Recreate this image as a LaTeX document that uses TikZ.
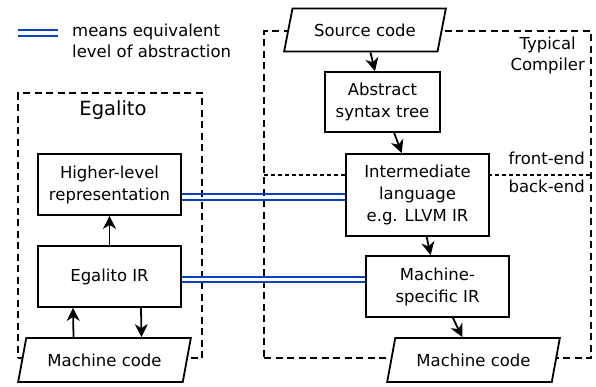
\documentclass[tikz,border=0pt]{standalone}
\usepackage{fontspec}
\setmainfont{DejaVu Sans}
\usetikzlibrary{positioning,shapes.geometric,arrows.meta}
\definecolor{equivblue}{RGB}{10,66,190}

\begin{document}
\begin{tikzpicture}[
  x=1pt, y=-1pt,
  stage/.style={draw, fill=white, line width=1.8pt, align=center,
    minimum width=143pt, minimum height=61pt, inner sep=2pt,
    font=\fontsize{16.5}{22}\selectfont},
  code/.style={draw, fill=white, line width=1.8pt, trapezium,
    trapezium left angle=70, trapezium right angle=110,
    trapezium stretches=true, minimum width=173pt, minimum height=44pt,
    inner sep=2pt, font=\fontsize{16.5}{22}\selectfont},
  region/.style={draw, line width=1.7pt, dash pattern=on 7pt off 4.5pt,
    inner sep=0pt},
  divider/.style={draw, line width=1.6pt, dash pattern=on 4pt off 3pt},
  note/.style={inner sep=0pt, font=\fontsize{16.5}{21}\selectfont},
  equiv/.style={
    postaction={draw=equivblue, line width=2pt, transform canvas={yshift=2.7pt}},
    postaction={draw=equivblue, line width=2pt, transform canvas={yshift=-2.7pt}}},
  flow/.style={-{Stealth[length=13pt,width=13pt,inset=4pt]}, line width=1.8pt}
  ]
  \useasboundingbox (0,0) rectangle (596,386);

  % dashed regions
  \node[region, minimum width=184pt, minimum height=265pt] (egalito) at (110,225.5) {};
  \node[region, minimum width=327pt, minimum height=327pt] (compiler) at (427.5,194.5) {};
  \coordinate (fe) at (264,175);
  \path[divider] (fe) -- (fe -| compiler.east);

  % legend
  \coordinate (lg1) at (18,33);
  \coordinate (lg2) at (58,33);
  \path[equiv] (lg1) -- (lg2);
  \node[note, anchor=west, align=left] (legend) at (72,41) {means equivalent\\level of abstraction};

  % labels
  \node[note, font=\fontsize{19.5}{24}\selectfont] (egtitle) at (113,110) {Egalito};
  \node[note, anchor=north east, align=center] (cmptitle) at (585,37) {Typical\\Compiler};
  \node[note, anchor=east] (front) at (585,158) {front-end};
  \node[note, anchor=east] (back) at (585,186) {back-end};

  % typical compiler
  \node[code, minimum width=162pt, minimum height=43pt] (src) at (365,30) {Source code};
  \node[stage, minimum width=115pt, minimum height=60pt] (ast) at (382.5,102) {Abstract\\syntax tree};
  \node[stage, minimum height=82pt] (il) at (417.5,195) {Intermediate\\language\\e.g. LLVM IR};
  \node[stage] (msir) at (437.5,286.5) {Machine-\\specific IR};
  \node[code] (mcr) at (473.5,360) {Machine code};

  % egalito
  \node[stage] (hlr) at (109.5,184.5) {Higher-level\\representation};
  \node[stage] (eir) at (109.5,276.5) {Egalito IR};
  \node[code] (mcl) at (104.5,360) {Machine code};

  \path[flow]
  (src) edge (ast)
  (ast) edge (il)
  (il) edge (msir)
  (msir) edge (mcr)
  (eir) edge (hlr)
  ([xshift=-31pt]mcl.north) edge ([xshift=-36.5pt]eir.south)
  ([xshift=31.5pt]eir.south) edge ([xshift=37pt]mcl.north);

  \path[equiv]
  ([yshift=-2pt]il.west) -- ([yshift=-2pt]il.west -| hlr.east)
  ([yshift=-3pt]eir.east) -- ([yshift=-3pt]eir.east -| msir.west);
\end{tikzpicture}
\end{document}
